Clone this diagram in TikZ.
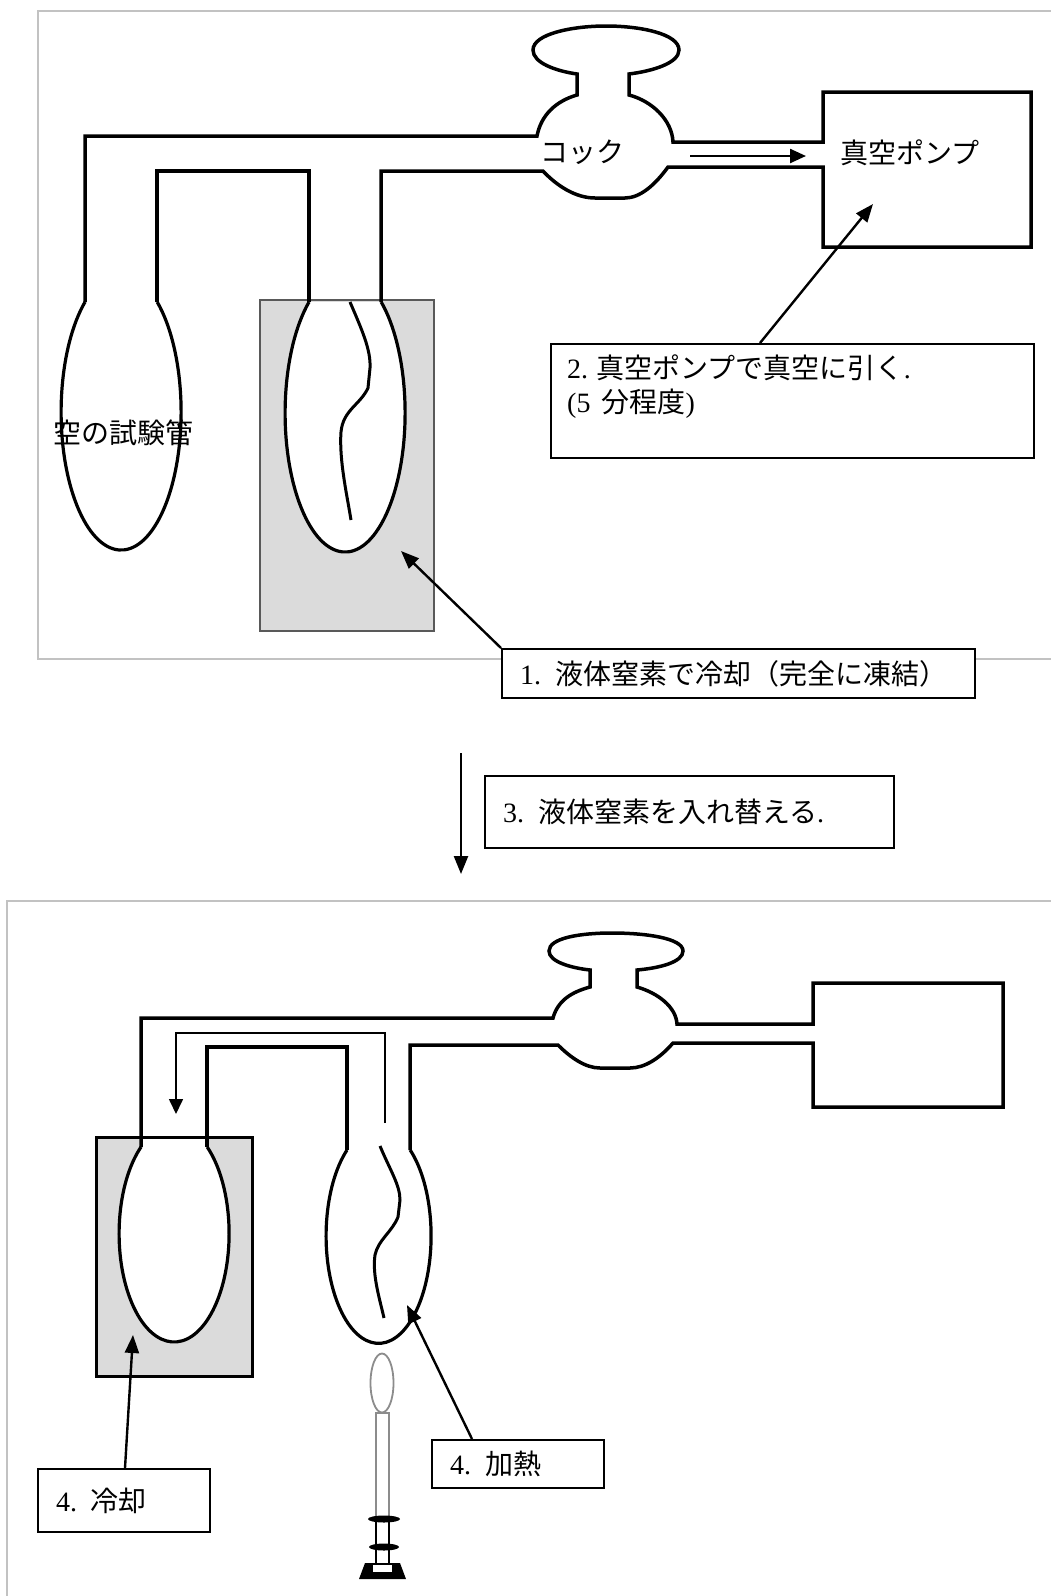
\documentclass[tikz,border=0pt]{standalone}
\usepackage{fontspec}
\setmainfont{Liberation Serif}
\newfontfamily\jp{Noto Sans CJK JP}
\usetikzlibrary{arrows.meta}
\definecolor{bathgray}{rgb}{0.86,0.86,0.86}
\definecolor{framegray}{rgb}{0.76,0.76,0.76}
\definecolor{flamegray}{rgb}{0.55,0.55,0.55}
\tikzstyle{pipe}=[line width=3.5pt, line join=miter]
\tikzstyle{glass}=[line width=3.2pt, fill=white]
\tikzstyle{sample}=[line width=3pt]
\tikzstyle{stepbox}=[draw, fill=white, line width=2pt, inner xsep=18pt, align=left, anchor=north west]
\tikzstyle{pointer}=[line width=2.4pt, -{Triangle[length=18pt,width=14pt]}]
\tikzstyle{frame}=[draw=framegray, line width=1.3pt]
% bulb of a test tube, hung from the left end of its neck
\newcommand{\bulb}[3]{\filldraw[glass] (#1) arc[start angle=127, end angle=413, x radius=#2pt, y radius=#3pt];}

\begin{document}
\begin{tikzpicture}[x=1pt, y=-1pt, font=\fontsize{28}{34}\selectfont]
\useasboundingbox (0,0) rectangle (1051,1596);
\fill[white] (0,0) rectangle (1051,1596);

% ---- evacuation ----
\draw[frame] (1060,11) -- (38,11) -- (38,659) -- (1060,659);
\filldraw[fill=bathgray, draw=black!65, line width=1.6pt] (260,300) rectangle (434,631);
\bulb{85,302}{60}{137.9}
\bulb{309,302}{60}{139}
\draw[sample] (350,302) .. controls (362,330) and (371,350) .. (370,368) -- (368,388)
  .. controls (360,405) and (343,410) .. (341,432) .. controls (339,460) and (347,495) .. (351,520);
\draw[pipe] (85,302) -- (85,136) -- (537,136)
  .. controls (541,115) and (556,101) .. (577,95) -- (577,74)
  .. controls (556,71) and (533,63) .. (533,50)
  .. controls (533,34) and (572,26) .. (606,26)
  .. controls (641,26) and (679,34) .. (679,50)
  .. controls (679,63) and (653,71) .. (629,74) -- (629,95)
  .. controls (652,101) and (672,120) .. (673,142) -- (823,142) -- (823,92) -- (1031,92)
  -- (1031,247) -- (823,247) -- (823,167) -- (668,167)
  .. controls (655,185) and (640,198) .. (625,198) -- (595,198)
  .. controls (575,198) and (556,185) .. (543,171) -- (381,171) -- (381,302);
\draw[pipe] (157,302) -- (157,171) -- (309,171) -- (309,302);

\node[anchor=west, inner sep=0pt] (cock) at (540,152) {\jp コック};
\node[anchor=west, inner sep=0pt] (pumplabel) at (840,153) {\jp 真空ポンプ};
\node[anchor=west, inner sep=0pt] (emptytube) at (53,433) {\jp 空の試験管};
\draw[line width=2.4pt, -{Triangle[length=16pt,width=14pt]}] (690,156) -- (806,156);

\node[stepbox, minimum height=49pt, text width=437pt] (step1) at (501,648)
  {1.\hspace{0.5em}{\jp 液体窒素で冷却（完全に凍結）}};
\node[stepbox, minimum width=483pt, minimum height=114pt] (step2) at (550,343) {};
\node[anchor=north west, inner sep=0pt, align=left] (step2text) at (567,355)
  {2.\hspace{0.3em}{\jp 真空ポンプで真空に引く}.\\(5\hspace{0.4em}{\jp 分程度})};
\coordinate (frozen) at (401,551);
\coordinate (pump) at (873,204);
\draw[pointer] (step1.north west) -- (frozen);
\draw[pointer] ([xshift=210pt]step2.north west) -- (pump);

% ---- swap the coolant ----
\coordinate (swaptop) at (461,753);
\coordinate (swapbottom) at (461,874);
\draw[pointer] (swaptop) -- (swapbottom);
\node[stepbox, minimum height=72pt, text width=373pt] (step3) at (484,775)
  {3.\hspace{0.5em}{\jp 液体窒素を入れ替える}.};

% ---- transfer ----
\draw[frame] (1060,901) -- (7,901) -- (7,1605);
\filldraw[fill=bathgray, draw=black, line width=3pt] (96,1137) rectangle (252,1376);
\fill[white] (142,1139) rectangle (206,1150);
\bulb{141,1147}{55}{108.4}
\bulb{347,1150}{52.5}{107.5}
\draw[sample] (380,1146) .. controls (390,1170) and (400,1185) .. (400,1200) -- (398,1217)
  .. controls (392,1232) and (378,1240) .. (375,1255) .. controls (372,1275) and (380,1300) .. (384,1318);
\draw[pipe] (141,1147) -- (141,1018) -- (553,1018)
  .. controls (558,1000) and (572,992) .. (590,987) -- (590,970)
  .. controls (572,968) and (549,962) .. (549,951)
  .. controls (549,938) and (580,933) .. (612,933)
  .. controls (645,933) and (683,938) .. (683,951)
  .. controls (683,962) and (660,968) .. (637,970) -- (637,987)
  .. controls (658,993) and (676,1007) .. (677,1024) -- (813,1024) -- (813,983) -- (1003,983)
  -- (1003,1107) -- (813,1107) -- (813,1043) -- (673,1043)
  .. controls (660,1058) and (645,1068) .. (630,1068) -- (600,1068)
  .. controls (585,1068) and (570,1057) .. (558,1045) -- (410,1045) -- (410,1150);
\draw[pipe] (207,1147) -- (207,1047) -- (347,1047) -- (347,1150);

\coordinate (flowstart) at (385,1123);
\coordinate (flowend) at (176,1114);
\draw[line width=1.6pt, -{Triangle[length=15pt,width=14pt]}] (flowstart) |- (176,1033) -- (flowend);

% burner
\draw[flamegray, line width=1.8pt] (382,1383) ellipse [x radius=11.5pt, y radius=29.5pt];
\draw[flamegray, line width=1.5pt] (376,1413) rectangle (389,1519);
\draw[line width=1.2pt] (376,1519) -- (376,1563) (389,1519) -- (389,1563);
\fill (384,1519) ellipse [x radius=16pt, y radius=3.5pt];
\fill (384,1547) ellipse [x radius=15pt, y radius=3.5pt];
\fill (365,1563) -- (400,1563) -- (406,1579) -- (359,1579) -- cycle;
\fill[white] (373,1565) rectangle (392,1572);

\node[stepbox, minimum height=63pt, text width=136pt] (cool) at (37,1468)
  {4.\hspace{0.5em}{\jp 冷却}};
\node[stepbox, minimum height=48pt, text width=136pt] (heat) at (431,1439)
  {4.\hspace{0.5em}{\jp 加熱}};
\coordinate (coldbath) at (133,1335);
\coordinate (hottube) at (407,1305);
\draw[pointer] ([xshift=88pt]cool.north west) -- (coldbath);
\draw[pointer] ([xshift=41pt]heat.north west) -- (hottube);
\end{tikzpicture}
\end{document}
